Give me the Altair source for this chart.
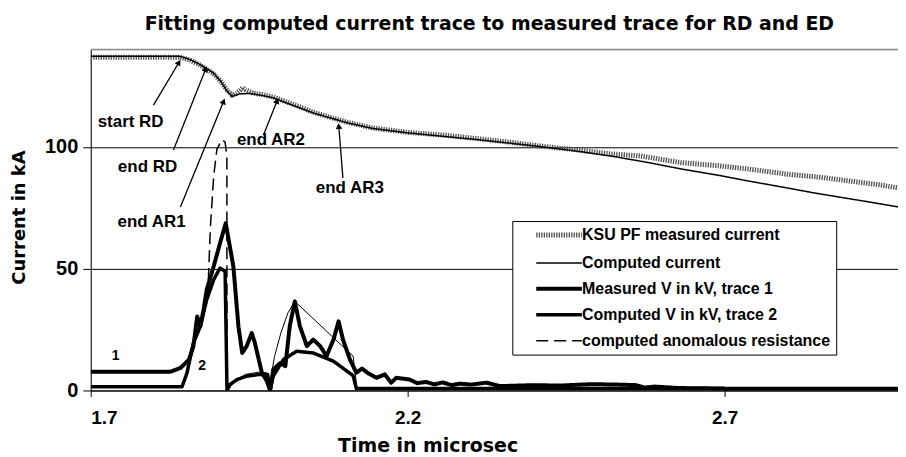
import math
import altair as alt
import pandas as pd

# ---------------- data ----------------
series_names = [
    "KSU PF measured current",
    "Computed current",
    "Measured V in kV, trace 1",
    "Computed V in kV, trace 2",
    "computed anomalous resistance",
]

mc_t = [1.700, 1.770, 1.840, 1.856, 1.873, 1.893, 1.905, 1.915, 1.923, 1.930, 1.936, 1.940,
        1.944, 1.950, 1.956, 1.970, 1.988, 2.010, 2.030, 2.051, 2.080, 2.104, 2.145, 2.200,
        2.260, 2.315, 2.360, 2.409, 2.460, 2.520, 2.568, 2.631, 2.690, 2.736, 2.800, 2.850,
        2.895, 2.940, 2.983]
mc_v = [136.9, 136.9, 136.9, 135.8, 133.6, 130.3, 127.0, 123.4, 121.3, 122.0, 123.4, 124.5,
        123.5, 122.8, 122.1, 121.6, 120.5, 118.4, 116.5, 114.3, 112.0, 110.2, 107.8, 106.0,
        104.8, 103.3, 102.0, 100.4, 99.0, 97.2, 96.3, 93.6, 92.3, 91.0, 88.8, 87.6,
        86.1, 84.6, 82.8]

cc_t = [1.700, 1.840, 1.856, 1.873, 1.893, 1.905, 1.915, 1.923, 1.935, 1.950, 1.970, 1.988,
        2.010, 2.051, 2.104, 2.145, 2.200, 2.315, 2.409, 2.470, 2.525, 2.580, 2.631, 2.690,
        2.736, 2.790, 2.842, 2.910, 2.983]
cc_v = [137.3, 137.3, 136.0, 133.8, 130.5, 127.0, 123.0, 120.8, 121.8, 122.0, 121.2, 120.2,
        118.0, 114.0, 110.0, 107.6, 105.8, 102.9, 100.2, 98.2, 96.1, 93.6, 91.0, 88.4,
        86.1, 83.6, 81.1, 78.2, 75.0]

mv_t = [1.700, 1.826, 1.842, 1.855, 1.862, 1.868, 1.873, 1.878, 1.883, 1.894, 1.904, 1.913,
        1.925, 1.933, 1.939, 1.946, 1.954, 1.959, 1.970, 1.978, 1.983, 1.988, 1.999, 2.007,
        2.014, 2.022, 2.030, 2.041, 2.051, 2.062, 2.072, 2.083, 2.091, 2.098, 2.109, 2.119,
        2.128, 2.138, 2.151, 2.164, 2.174, 2.182, 2.203, 2.215, 2.229, 2.242, 2.255, 2.270,
        2.282, 2.300, 2.324, 2.345, 2.400, 2.439, 2.490, 2.533, 2.560, 2.575, 2.590, 2.628,
        2.698, 2.705, 2.864, 2.983]
mv_v = [7.7, 7.7, 9.3, 12.7, 18.2, 30.4, 26.4, 33.2, 41.4, 51.0, 60.5, 68.7,
        51.0, 26.4, 15.4, 18.2, 23.6, 19.5, 7.3, 3.8, 0.0, 8.6, 11.3, 10.0,
        26.4, 36.6, 26.4, 18.2, 20.9, 18.2, 14.1, 20.9, 28.4, 20.9, 12.7, 7.3,
        9.0, 7.0, 5.2, 6.6, 3.2, 5.2, 4.5, 3.0, 3.5, 2.5, 3.3, 2.2,
        2.8, 2.4, 3.2, 1.8, 2.2, 2.0, 2.6, 2.4, 2.2, 1.2, 1.6, 1.0,
        0.8, 0.4, 0.4, 0.4]

cv_t = [1.700, 1.844, 1.852, 1.862, 1.873, 1.883, 1.894, 1.904, 1.912, 1.915, 1.920, 1.931,
        1.946, 1.967, 1.979, 1.983, 1.988, 2.004, 2.025, 2.051, 2.083, 2.114, 2.119, 2.983]
cv_v = [1.5, 1.5, 7.3, 19.5, 26.4, 37.3, 45.5, 50.3, 48.9, 0.0, 2.5, 4.5,
        5.9, 6.6, 6.6, 0.0, 5.9, 12.7, 16.1, 15.4, 12.0, 6.1, 0.8, 0.8]

ar_t = [1.8845, 1.887, 1.889, 1.894, 1.899, 1.907, 1.912, 1.9148, 1.915]
ar_v = [38.0, 55.0, 68.0, 88.0, 99.0, 103.0, 102.0, 96.0, 0.0]

# unlabeled thin trace in the lower part
th_t = [1.915, 1.928, 1.944, 1.965, 1.977, 1.982, 1.990, 2.000, 2.011, 2.022, 2.114, 2.120]
th_v = [0.0, 3.8, 6.6, 7.5, 7.3, 1.8, 14.0, 23.6, 31.8, 36.6, 14.1, 1.0]

ann_labels = ["start RD", "end RD", "end AR1", "end AR2", "end AR3"]
ann_x = [1.7629, 1.7896, 1.7959, 1.9843, 2.1088]
ann_y = [110.2, 91.8, 69.3, 102.9, 83.2]
arrow_tail_x = [1.799, 1.8305, 1.8415, 1.9725, 2.0978]
arrow_tail_y = [117.2, 98.8, 75.4, 104.9, 87.3]
arrow_head_x = [1.8384, 1.8808, 1.9091, 1.9935, 2.0915]
arrow_head_y = [134.4, 131.6, 118.4, 118.6, 108.2]

trace_labels = ["1", "2"]
trace_label_x = [1.7393, 1.8756]
trace_label_y = [14.1, 10.0]

x_ticks = [1.7, 2.2, 2.7]
y_ticks = [0, 50, 100]

# ---------------- layout / style ----------------
W, H = 810, 342
XMIN = 1.7
XMAX = 1.7 + W / 636.0
YMAX = 140
FONT = "Liberation Sans"
WIDE = "DejaVu Sans"

colors = ["#505050", "black", "black", "black", "black"]
dashes = [[1.3, 1.2], [1, 0], [1, 0], [1, 0], [12, 6]]
widths = [5.0, 1.5, 4.0, 3.5, 1.5]

rows = []
for name, ts, vs, w in zip(series_names, [mc_t, cc_t, mv_t, cv_t, ar_t],
                           [mc_v, cc_v, mv_v, cv_v, ar_v], widths):
    for i, (t, v) in enumerate(zip(ts, vs)):
        rows.append({"t": t, "v": v, "series": name, "i": i, "w": w})
df = pd.DataFrame(rows)

thin_df = pd.DataFrame({"t": th_t, "v": th_v, "i": range(len(th_t))})

ann_df = pd.DataFrame({"label": ann_labels, "x": ann_x, "y": ann_y})
px_x = W / (XMAX - XMIN)
px_y = H / YMAX
angles = [math.degrees(math.atan2((hx - tx) * px_x, (hy - ty) * px_y)) % 360
          for tx, ty, hx, hy in zip(arrow_tail_x, arrow_tail_y, arrow_head_x, arrow_head_y)]
arrow_df = pd.DataFrame({"x": arrow_tail_x, "y": arrow_tail_y,
                         "x2": arrow_head_x, "y2": arrow_head_y, "angle": angles})
tl_df = pd.DataFrame({"label": trace_labels, "x": trace_label_x, "y": trace_label_y})

xscale = alt.Scale(domain=[XMIN, XMAX], nice=False, zero=False)
yscale = alt.Scale(domain=[0, YMAX], nice=False, zero=True)

width_expr = ""
for n, w in zip(series_names[:-1], widths[:-1]):
    width_expr += f"datum.value === '{n}' ? {w} : "
width_expr += f"{widths[-1]}"
width_expr = f"(isValid(datum) && isValid(datum.value)) ? ({width_expr}) : 3"

legend = alt.Legend(
    title=None, orient="none", legendX=423, legendY=172,
    fillColor="white", strokeColor="black", padding=6,
    symbolType="M1.67,0H9.3", symbolSize=144,
    symbolStrokeWidth=alt.ExprRef(width_expr),
    labelOffset=48, labelFont=FONT, labelFontSize=16, labelFontWeight="bold",
    labelColor="black", rowPadding=10, labelLimit=400,
)

lines = alt.Chart(df).mark_line(clip=True, strokeJoin="round").encode(
    x=alt.X("t:Q", scale=xscale,
            axis=alt.Axis(values=x_ticks, format=".1f", title="Time in microsec",
                          labelFont=FONT, labelFontSize=19, labelFontWeight="bold",
                          labelColor="black", labelPadding=12, tickSize=6, tickColor="black",
                          domainColor="black", grid=False,
                          titleFont=WIDE, titleFontSize=19, titleFontWeight="bold",
                          titleColor="black", titleX=338, titleY=61,
                          titleBaseline="alphabetic")),
    y=alt.Y("v:Q", scale=yscale,
            axis=alt.Axis(values=y_ticks, title="Current  in kA",
                          labelFont=FONT, labelFontSize=20, labelFontWeight="bold",
                          labelColor="black", labelPadding=5, tickSize=8, tickColor="black",
                          domainColor="black", grid=True, gridColor="black", gridOpacity=1,
                          titleFont=WIDE, titleFontSize=18, titleFontWeight="bold",
                          titleColor="black", titleAngle=270, titleBaseline="middle",
                          titleX=-71, titleY=168)),
    color=alt.Color("series:N", scale=alt.Scale(domain=series_names, range=colors), legend=legend),
    strokeDash=alt.StrokeDash("series:N", scale=alt.Scale(domain=series_names, range=dashes), legend=legend),
    strokeWidth=alt.StrokeWidth("w:Q", scale=alt.Scale(domain=[0, 10], range=[0, 10]), legend=None),
    detail="series:N",
    order=alt.Order("i:Q"),
)

thin = alt.Chart(thin_df).mark_line(clip=True, color="black", strokeWidth=1).encode(
    x="t:Q", y="v:Q", order=alt.Order("i:Q"))

frame = alt.Chart(pd.DataFrame({"a": [0]})).mark_rule(color="#8c8c8c", strokeWidth=1.5).encode(
    y=alt.value(0), x=alt.value(0), x2=alt.value(W))

ann_text = alt.Chart(ann_df).mark_text(font=FONT, fontSize=17, fontWeight="bold", color="black").encode(
    x="x:Q", y="y:Q", text="label:N")

arrows = alt.Chart(arrow_df).mark_rule(color="black", strokeWidth=1.3).encode(
    x="x:Q", y="y:Q", x2="x2:Q", y2="y2:Q")
heads = alt.Chart(arrow_df).mark_point(shape="triangle", filled=True, size=45, color="black", opacity=1).encode(
    x="x2:Q", y="y2:Q", angle=alt.Angle("angle:Q", scale=None))

tl_text = alt.Chart(tl_df).mark_text(font=FONT, fontSize=14, fontWeight="bold", color="black").encode(
    x="x:Q", y="y:Q", text="label:N")

chart = alt.layer(frame, lines, thin, arrows, heads, ann_text, tl_text).properties(
    width=W, height=H,
    title=alt.TitleParams("Fitting computed current trace to measured trace for RD and ED",
                          font=WIDE, fontSize=19, fontWeight="bold", color="black",
                          anchor="middle", dx=-5, offset=15),
    autosize=alt.AutoSizeParams(type="none"),
    padding={"left": 83, "top": 41, "right": 0, "bottom": 66},
).configure_view(stroke=None).configure(background="white")

chart.save("out.html", embed_options={"renderer": "svg", "actions": False})
